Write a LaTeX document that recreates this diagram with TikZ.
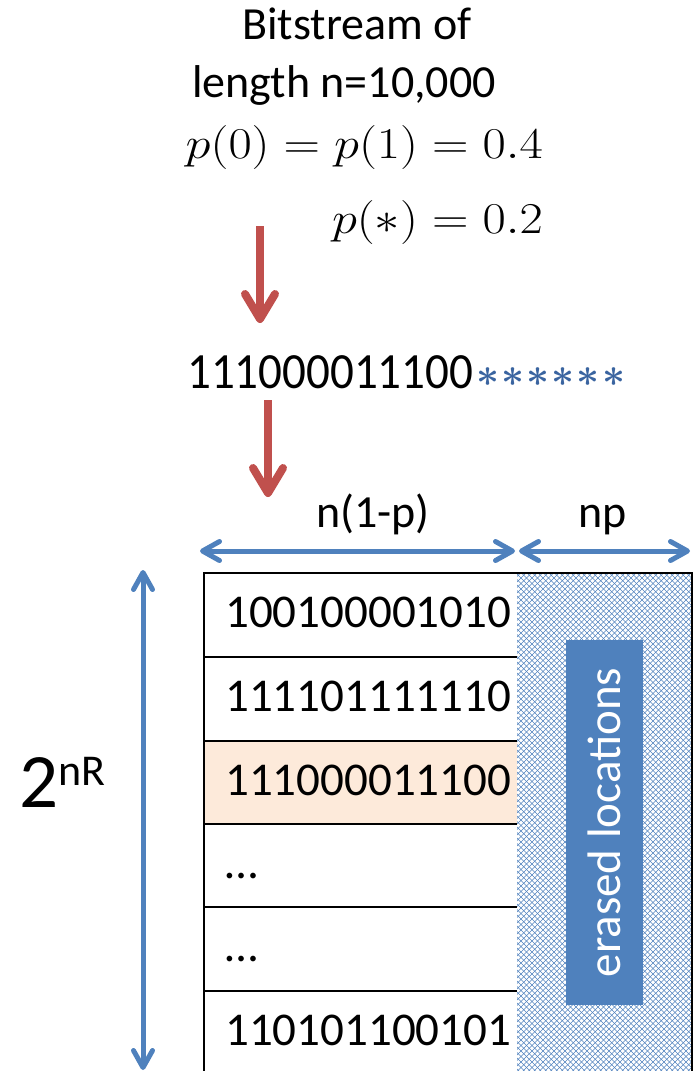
\RequirePackage{fix-cm}
\documentclass[tikz,border=0pt]{standalone}
\usepackage[no-math]{fontspec}
\setmainfont{Carlito}
\usepackage{graphicx}
\usetikzlibrary{arrows.meta}
\definecolor{redarr}{HTML}{C0504D}
\definecolor{bluearr}{HTML}{4F81BD}
\definecolor{astblue}{HTML}{3A64A0}
\definecolor{hilite}{HTML}{FDEADA}
\newcommand{\astk}{\mathord{\ast}\kern2.2pt}
\tikzset{
  redarrow/.style={draw=redarr, line width=8pt, -{Straight Barb[length=25pt,width=30pt,round]}},
  bluedbl/.style={draw=bluearr, line width=5pt, {Straight Barb[length=17pt,width=19pt,round]}-{Straight Barb[length=17pt,width=19pt,round]}},
  hatchline/.style={draw=bluearr, line width=0.6pt},
  ttl/.style={anchor=base, inner sep=0pt, font=\fontsize{46}{55}\selectfont},
  eqn/.style={anchor=base east, inner sep=0pt, font=\fontsize{44}{52}\selectfont},
  rowtxt/.style={anchor=base west, inner sep=0pt, font=\fontsize{47}{56}\selectfont},
  lbl/.style={anchor=base, inner sep=0pt, font=\fontsize{46}{55}\selectfont},
  tableline/.style={draw=black, line width=2pt},
}
\begin{document}
\begin{tikzpicture}[x=1pt,y=-1pt]
\useasboundingbox (0,0) rectangle (697,1071);
% title block
\node[ttl] (title1) at (357,39) {Bitstream of};
\node[ttl] (title2) at (344,97) {length n=10,000};
\node[eqn] (eq1) at (543,158) {\scalebox{1.15}[1]{$p(0)=p(1)=0.4$}};
\node[eqn] (eq2) at (543,233) {\scalebox{1.15}[1]{$p(*)=0.2$}};
% sequence
\node[anchor=base west, inner sep=0pt] (seq) at (187,388)
  {\fontsize{47}{56}\selectfont\scalebox{1}[1.08]{111000011100}\kern3pt\textcolor{astblue}{\fontsize{40}{48}\selectfont\raisebox{2pt}{\boldmath$\astk\astk\astk\astk\astk\mathord{\ast}$}}};
% red arrows
\coordinate (r1s) at (260,226);
\coordinate (r1e) at (260,323);
\coordinate (r2s) at (268,400);
\coordinate (r2e) at (268,497);
\draw[redarrow] (r1s) -- (r1e);
\draw[redarrow] (r2s) -- (r2e);
% width labels
\node[lbl] (lblA) at (373,527) {n(1-p)};
\node[lbl] (lblB) at (603,527) {np};
\coordinate (hA) at (200,551);
\coordinate (hB) at (515,551);
\coordinate (hC) at (519,551);
\coordinate (hD) at (690,551);
\draw[bluedbl] (hA) -- (hB);
\draw[bluedbl] (hC) -- (hD);
% vertical arrow
\coordinate (vA) at (143,570);
\coordinate (vB) at (143,1070);
\draw[bluedbl] (vA) -- (vB);
\node[anchor=base west, inner sep=0pt] (twonr) at (19,807)
  {\fontsize{77}{90}\selectfont 2\fontsize{44}{50}\selectfont\raisebox{22pt}{nR}};
% hatched region
\begin{scope}
  \clip (517,574) rectangle (692,1080);
  \foreach \i in {0,...,130} {
    \draw[hatchline] ({-3+\i*5.5},1080) -- ++(520,-520);
    \draw[hatchline] ({517+\i*5.5},1080) -- ++(-520,-520);
  }
\end{scope}
% highlighted row
\fill[hilite] (204,741) rectangle (517,824);
% table lines
\draw[tableline] (204,1080) -- (204,573) -- (692,573) -- (692,1080);
\foreach \yy in {657,741,824,907,991} {
  \draw[tableline] (204,\yy) -- (517,\yy);
}
% row texts
\node[rowtxt] (row1) at (225,627) {100100001010};
\node[rowtxt] (row2) at (225,711) {111101111110};
\node[rowtxt] (row3) at (225,795) {111000011100};
\node[rowtxt] (row4) at (225,878) {…};
\node[rowtxt] (row5) at (225,961) {…};
\node[rowtxt] (row6) at (225,1045) {110101100101};
% erased box
\fill[bluearr] (566,640) rectangle (643,1005);
\node[rotate=90, text=white, inner sep=0pt, font=\fontsize{47}{56}\selectfont] (erased) at (604.5,822.5) {erased locations};
\end{tikzpicture}
\end{document}
